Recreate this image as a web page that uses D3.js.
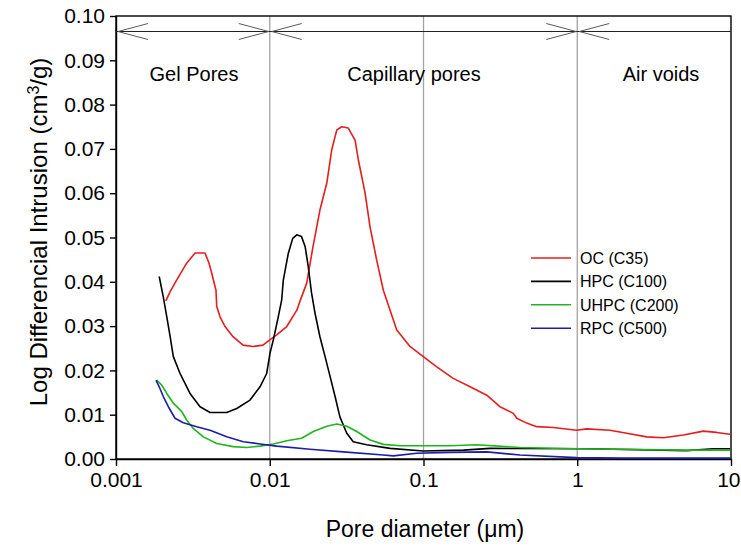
<!DOCTYPE html>
<html>
<head>
<meta charset="utf-8">
<script src="https://cdn.jsdelivr.net/npm/d3@7/dist/d3.min.js"></script>
<style>
  html, body { margin: 0; padding: 0; background: #ffffff; }
  svg { display: block; font-family: "Liberation Sans", Arial, sans-serif; }
</style>
</head>
<body>
<svg id="chart" width="741" height="548"></svg>
<script>
// Pore size distribution curves: [pore diameter (µm), log differential intrusion (cm3/g)]
const ocC35 = [
  [0.00211, 0.0357], [0.00225, 0.0378], [0.00248, 0.0404], [0.00288, 0.0442],
  [0.00327, 0.0465], [0.00379, 0.0465], [0.00403, 0.0442], [0.00419, 0.0420],
  [0.00447, 0.0381], [0.00452, 0.0344], [0.00475, 0.0321], [0.00512, 0.0299],
  [0.00577, 0.0276], [0.00670, 0.0257], [0.00778, 0.0254], [0.00904, 0.0257],
  [0.0100, 0.0269], [0.0111, 0.0280], [0.0129, 0.0299], [0.0150, 0.0336],
  [0.0161, 0.0366], [0.0174, 0.0397], [0.0191, 0.0479], [0.0212, 0.0562],
  [0.0235, 0.0623], [0.0253, 0.0698], [0.0273, 0.0743], [0.0294, 0.0750],
  [0.0324, 0.0747], [0.0359, 0.0720], [0.0377, 0.0675], [0.0417, 0.0600],
  [0.0449, 0.0524], [0.0496, 0.0449], [0.0548, 0.0381], [0.0606, 0.0336],
  [0.0670, 0.0291], [0.0817, 0.0254], [0.0997, 0.0231], [0.122, 0.0208],
  [0.156, 0.0182], [0.201, 0.0163], [0.258, 0.0144], [0.314, 0.0118],
  [0.384, 0.0103], [0.404, 0.0092], [0.469, 0.0081], [0.545, 0.0073],
  [0.70, 0.0071], [0.99, 0.0065], [1.15, 0.0068], [1.63, 0.0065],
  [2.10, 0.0058], [2.83, 0.0050], [3.63, 0.0048], [4.90, 0.0054],
  [6.61, 0.0063], [8.07, 0.0060], [9.85, 0.0056]
];
const hpcC100 = [
  [0.00191, 0.0412], [0.00203, 0.0366], [0.00214, 0.0321], [0.00225, 0.0276],
  [0.00236, 0.0231], [0.00261, 0.0193], [0.00303, 0.0148], [0.00352, 0.0118],
  [0.00409, 0.0105], [0.00525, 0.0105], [0.00610, 0.0114], [0.00744, 0.0133],
  [0.00864, 0.0163], [0.00955, 0.0193], [0.01004, 0.0239], [0.01055, 0.0269],
  [0.01136, 0.0321], [0.01196, 0.0359], [0.01225, 0.0404], [0.0132, 0.0464],
  [0.0141, 0.0498], [0.0150, 0.0506], [0.0161, 0.0502], [0.0170, 0.0479],
  [0.0178, 0.0434], [0.0187, 0.0375], [0.0197, 0.0329], [0.0212, 0.0276],
  [0.0229, 0.0231], [0.0247, 0.0186], [0.0266, 0.0141], [0.0286, 0.0095],
  [0.0317, 0.0058], [0.0349, 0.0039], [0.0427, 0.0032], [0.0606, 0.0024],
  [0.0997, 0.0018], [0.182, 0.0020], [0.271, 0.0024], [1.15, 0.0023],
  [5.15, 0.0019], [7.67, 0.0023], [9.85, 0.0023]
];
const uhpcC200 = [
  [0.00184, 0.0178], [0.00198, 0.0167], [0.00214, 0.0148], [0.00236, 0.0126],
  [0.00268, 0.0107], [0.00288, 0.0088], [0.00318, 0.0069], [0.00370, 0.0050],
  [0.00452, 0.0035], [0.00579, 0.0028], [0.00708, 0.0026], [0.00864, 0.0029],
  [0.01055, 0.0034], [0.0129, 0.0041], [0.0161, 0.0047], [0.0192, 0.0062],
  [0.0235, 0.0074], [0.0273, 0.0079], [0.0317, 0.0074], [0.0368, 0.0062],
  [0.0449, 0.0043], [0.0548, 0.0033], [0.0703, 0.0030], [0.149, 0.0030],
  [0.222, 0.0032], [0.424, 0.0026], [0.99, 0.0023], [5.15, 0.0020],
  [9.85, 0.0020]
];
const rpcC500 = [
  [0.00182, 0.0178], [0.00191, 0.0163], [0.00203, 0.0141], [0.00219, 0.0118],
  [0.00242, 0.0092], [0.00274, 0.0082], [0.00335, 0.0073], [0.00409, 0.0065],
  [0.00525, 0.0050], [0.00673, 0.0039], [0.00864, 0.0034], [0.0111, 0.0029],
  [0.0183, 0.0022], [0.0301, 0.0016], [0.0548, 0.0009], [0.0636, 0.0007],
  [0.0903, 0.0013], [0.149, 0.0015], [0.258, 0.0016], [0.424, 0.0009],
  [0.99, 0.0003], [1.90, 0.0002], [9.85, 0.0002]
];

const seriesNames = ["OC (C35)", "HPC (C100)", "UHPC (C200)", "RPC (C500)"];
const seriesColors = ["#e41e1e", "#000000", "#1fb51f", "#1d1da6"];
const seriesData = [ocC35, hpcC100, uhpcC200, rpcC500];

const xTicks = [0.001, 0.01, 0.1, 1, 10];
const xTickLabels = ["0.001", "0.01", "0.1", "1", "10"];
const yTicks = [0, 0.01, 0.02, 0.03, 0.04, 0.05, 0.06, 0.07, 0.08, 0.09, 0.10];
const regionBounds = [0.001, 0.01, 1, 10];        // gel / capillary / air-void limits
const regionLabels = ["Gel Pores", "Capillary pores", "Air voids"];
const arrowLevel = 0.0965;

const svg = d3.select("#chart");
const plotLeft = 116, plotRight = 731, plotTop = 16, plotBottom = 459;

const x = d3.scaleLog().domain([0.001, 10]).range([plotLeft, plotRight]);
const y = d3.scaleLinear().domain([0, 0.1]).range([plotBottom, plotTop]);

// vertical reference lines at 0.01, 0.1 and 1 µm
svg.append("g").selectAll("line")
  .data([0.01, 0.1, 1]).join("line")
  .attr("x1", d => x(d)).attr("x2", d => x(d))
  .attr("y1", plotTop).attr("y2", plotBottom)
  .attr("stroke", "#a3a3a3").attr("stroke-width", 1.3);

// frame
svg.append("rect")
  .attr("x", plotLeft).attr("y", plotTop)
  .attr("width", plotRight - plotLeft).attr("height", plotBottom - plotTop)
  .attr("fill", "none").attr("stroke", "#000").attr("stroke-width", 1.4);

// axes
const yAxis = d3.axisLeft(y).tickValues(yTicks).tickFormat(d3.format(".2f"))
  .tickSizeOuter(0).tickSizeInner(6).tickPadding(5);
const gy = svg.append("g").attr("transform", `translate(${plotLeft},0)`).call(yAxis);
const xAxis = d3.axisBottom(x).tickValues(xTicks)
  .tickFormat((d, i) => xTickLabels[i]).tickSizeOuter(0).tickSizeInner(7).tickPadding(6);
const gx = svg.append("g").attr("transform", `translate(0,${plotBottom})`).call(xAxis);
[gx, gy].forEach(g => {
  g.select(".domain").attr("stroke", "#000").attr("stroke-width", 1.4);
  g.selectAll(".tick line").attr("stroke", "#000").attr("stroke-width", 1.4);
  g.selectAll(".tick text").attr("fill", "#000")
    .style("font-family", "'Liberation Sans', Arial, sans-serif").style("font-size", "21px");
});
// the last decade label sits at the right page edge: keep it inside
gx.selectAll(".tick text").filter(d => d === 10)
  .attr("text-anchor", "end").attr("dx", 9);

// axis titles
svg.append("text")
  .attr("x", 425).attr("y", 537)
  .attr("text-anchor", "middle").style("font-size", "23px")
  .text("Pore diameter (\u03bcm)");

const yTitle = svg.append("text")
  .attr("transform", "translate(47,232) rotate(-90)")
  .attr("text-anchor", "middle").style("font-size", "24px");
yTitle.append("tspan").text("Log Differencial Intrusion (cm");
yTitle.append("tspan").attr("baseline-shift", "super").style("font-size", "16px").text("3");
yTitle.append("tspan").text("/g)");

// region arrows along the top
svg.append("line")
  .attr("x1", plotLeft).attr("x2", plotRight)
  .attr("y1", y(arrowLevel)).attr("y2", y(arrowLevel))
  .attr("stroke", "#222").attr("stroke-width", 1);

const heads = [];
for (let i = 0; i < regionBounds.length - 1; i++) {
  heads.push({ tip: x(regionBounds[i]) + 2, dir: 1 });
  if (i < regionBounds.length - 2) heads.push({ tip: x(regionBounds[i + 1]) - 1, dir: -1 });
}
const headGroup = svg.append("g").attr("stroke", "#5a5a5a").attr("stroke-width", 1).attr("fill", "none");
heads.forEach(h => {
  const ay = y(arrowLevel);
  headGroup.append("polyline")
    .attr("points", `${h.tip + h.dir * 30},${ay - 8} ${h.tip},${ay} ${h.tip + h.dir * 30},${ay + 8}`);
});

const labelX = [194, 414, 661];
svg.append("g").selectAll("text")
  .data(regionLabels).join("text")
  .attr("x", (d, i) => labelX[i]).attr("y", 81)
  .attr("text-anchor", "middle").style("font-size", "20px")
  .text(d => d);

// curves
svg.append("clipPath").attr("id", "plotClip")
  .append("rect").attr("x", plotLeft).attr("y", plotTop)
  .attr("width", plotRight - plotLeft).attr("height", plotBottom - plotTop);

const line = d3.line().x(d => x(d[0])).y(d => y(d[1]));
svg.append("g").attr("clip-path", "url(#plotClip)")
  .selectAll("path")
  .data(seriesData).join("path")
  .attr("d", line)
  .attr("fill", "none")
  .attr("stroke", (d, i) => seriesColors[i])
  .attr("stroke-width", 1.6)
  .attr("stroke-linejoin", "round");

// legend
const legend = svg.append("g");
seriesNames.forEach((name, i) => {
  const ly = 258 + i * 23.4;
  legend.append("line")
    .attr("x1", 531).attr("x2", 571).attr("y1", ly).attr("y2", ly)
    .attr("stroke", seriesColors[i]).attr("stroke-width", 1.6);
  legend.append("text")
    .attr("x", 580).attr("y", ly + 6)
    .style("font-size", "16px").text(name);
});
</script>
</body>
</html>
